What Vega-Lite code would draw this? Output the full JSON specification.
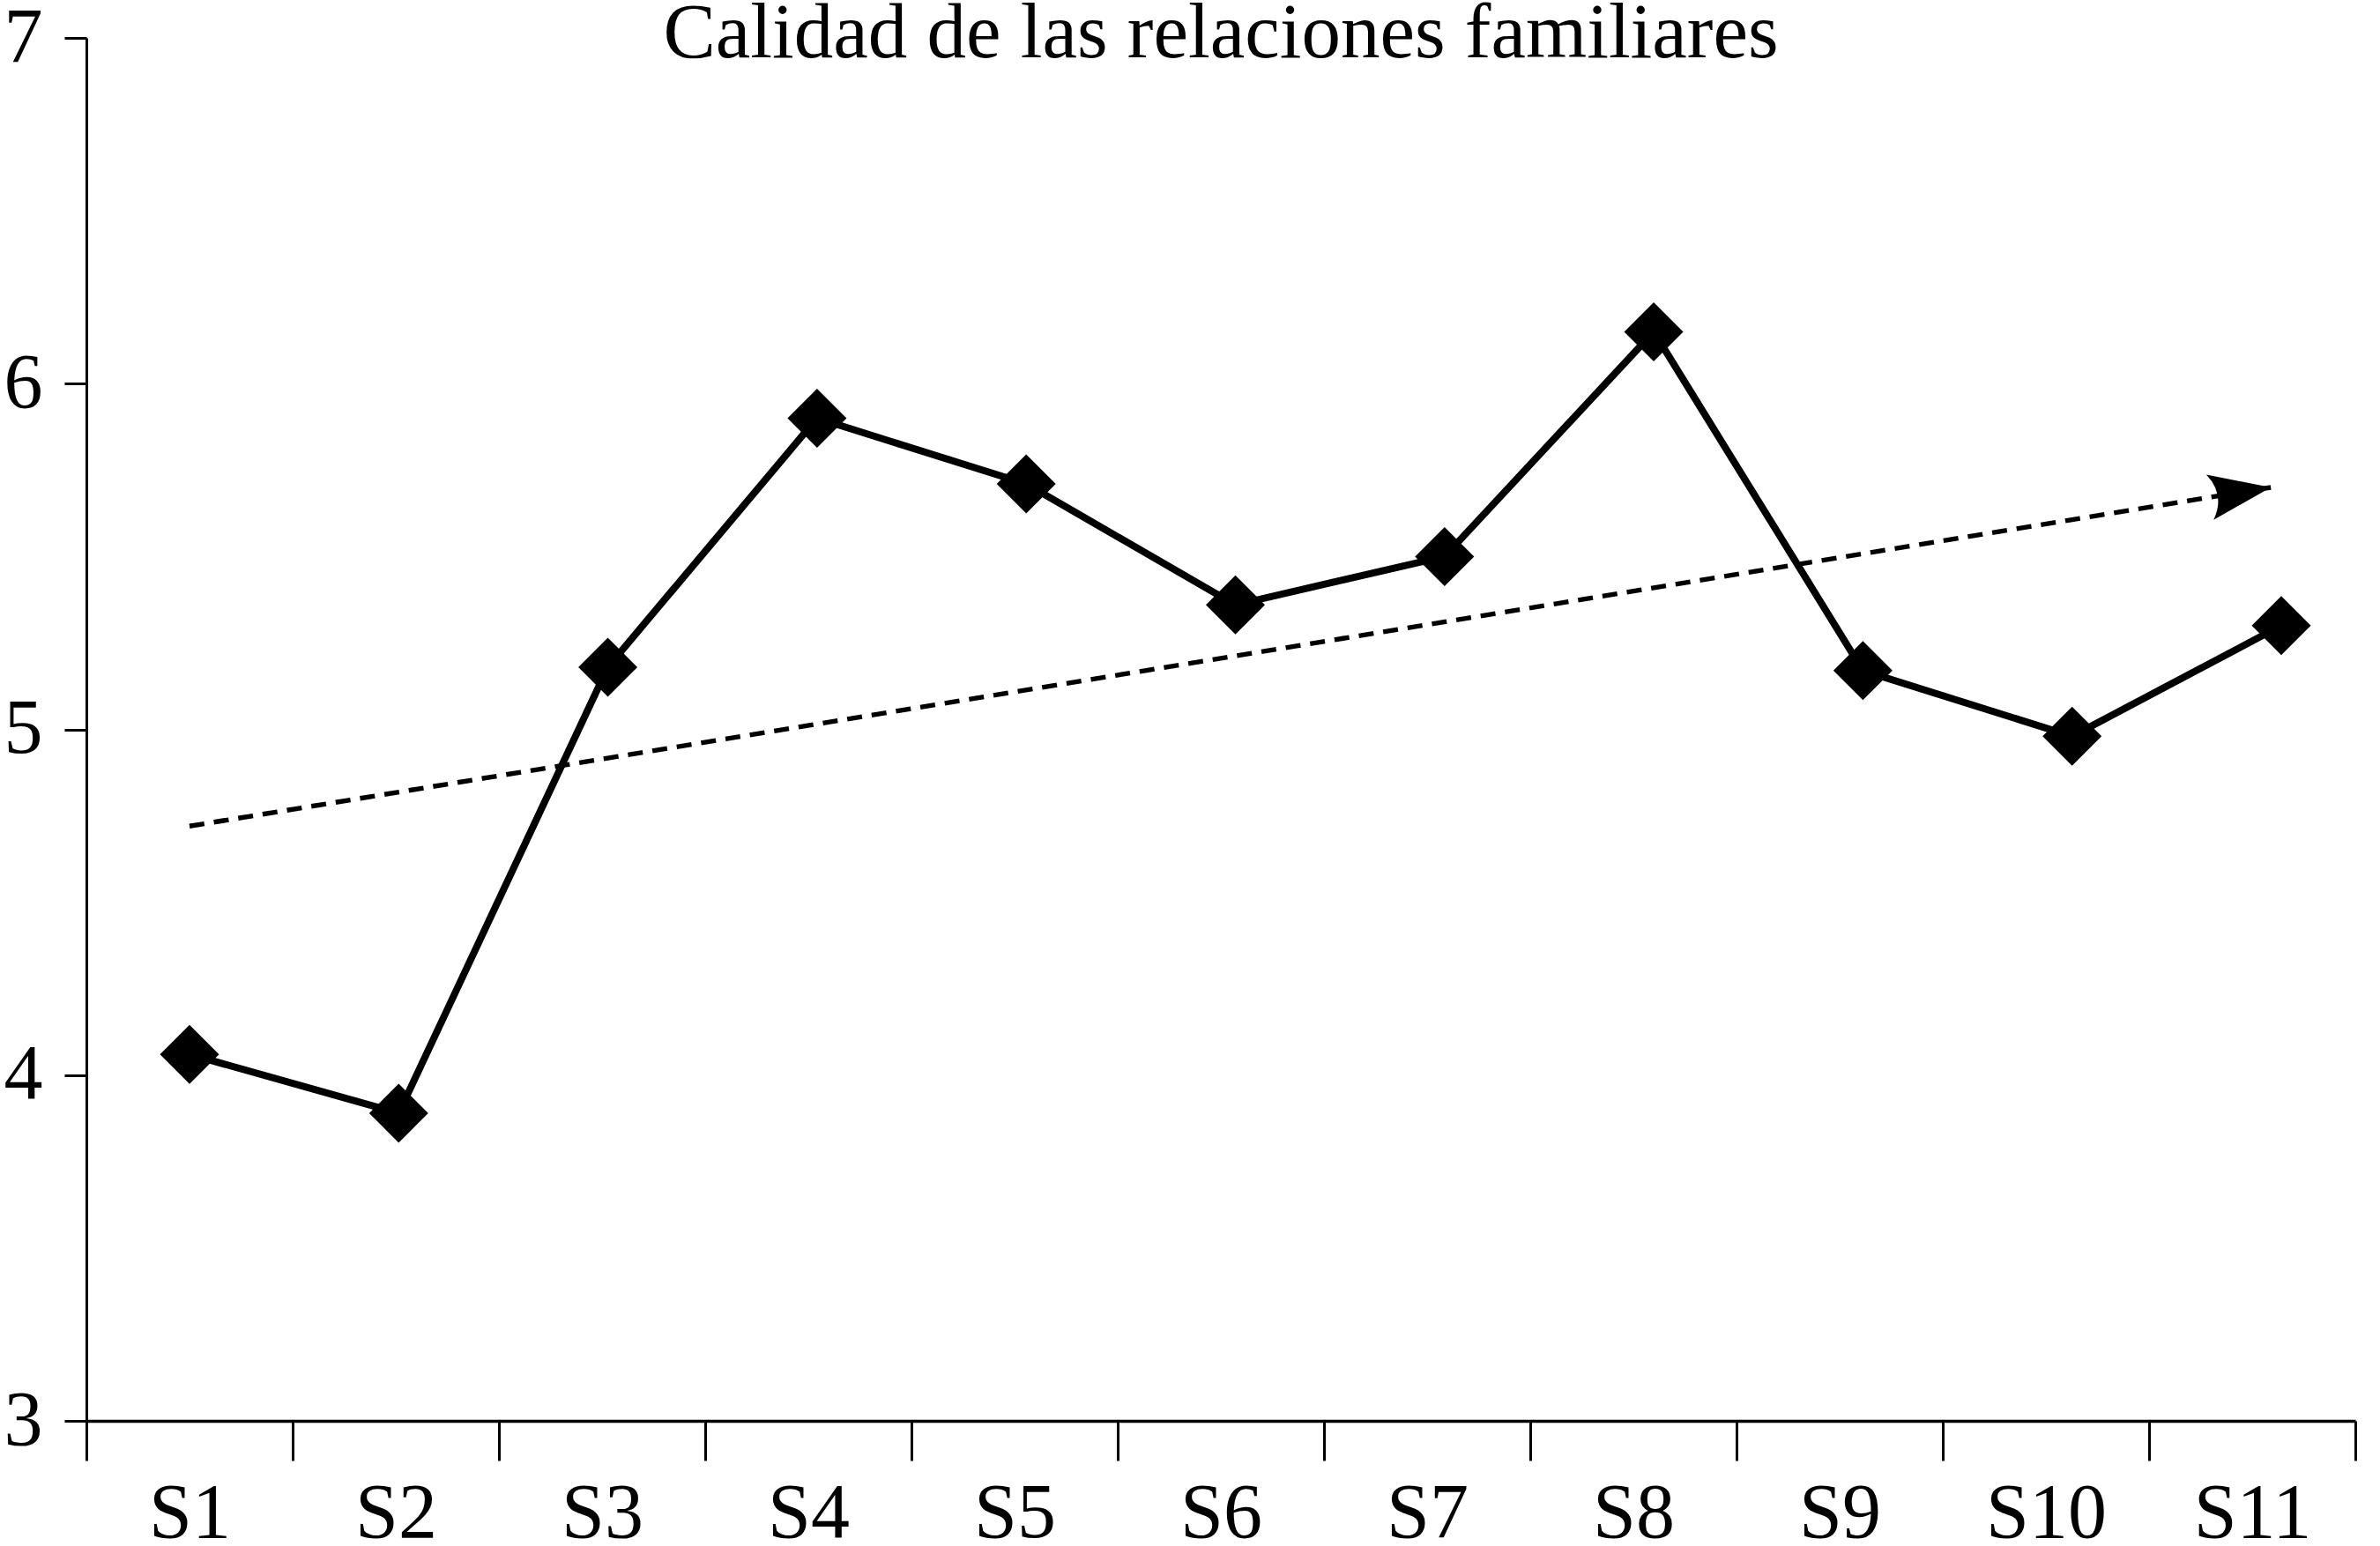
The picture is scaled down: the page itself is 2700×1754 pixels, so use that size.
{
  "$schema": "https://vega.github.io/schema/vega-lite/v6.json",
  "autosize": {"type": "none"},
  "padding": {"left": 98, "top": 43, "right": 28, "bottom": 142},
  "width": 2574,
  "height": 1569,
  "background": "white",
  "title": {
    "text": "Calidad de las relaciones familiares",
    "font": "Liberation Serif",
    "fontSize": 89,
    "fontWeight": "normal",
    "color": "black",
    "anchor": "middle",
    "baseline": "alphabetic",
    "offset": -155
  },
  "config": {
    "view": {"stroke": null},
    "axis": {
      "grid": false,
      "labelFont": "Liberation Serif",
      "labelFontSize": 88,
      "labelColor": "black",
      "domainColor": "black",
      "tickColor": "black",
      "title": null
    }
  },
  "datasets": {
    "sesiones": [
      {"sesion": "S1", "n": 1, "valor": 4.06},
      {"sesion": "S2", "n": 2, "valor": 3.89},
      {"sesion": "S3", "n": 3, "valor": 5.18},
      {"sesion": "S4", "n": 4, "valor": 5.90},
      {"sesion": "S5", "n": 5, "valor": 5.71},
      {"sesion": "S6", "n": 6, "valor": 5.36},
      {"sesion": "S7", "n": 7, "valor": 5.50},
      {"sesion": "S8", "n": 8, "valor": 6.15},
      {"sesion": "S9", "n": 9, "valor": 5.17},
      {"sesion": "S10", "n": 10, "valor": 4.98},
      {"sesion": "S11", "n": 11, "valor": 5.30}
    ],
    "tendencia": [
      {"n": 1, "valor": 4.72},
      {"n": 10.95, "valor": 5.70}
    ]
  },
  "resolve": {"scale": {"x": "independent"}},
  "layer": [
    {
      "data": {"name": "sesiones"},
      "mark": {"type": "point", "opacity": 0},
      "encoding": {
        "x": {
          "field": "sesion",
          "type": "nominal",
          "sort": null,
          "scale": {"type": "band", "paddingInner": 0, "paddingOuter": 0},
          "axis": {
            "tickBand": "extent",
            "tickSize": 45,
            "tickWidth": 3,
            "domainWidth": 3.5,
            "labelAngle": 0,
            "labelBaseline": "alphabetic",
            "labelPadding": 86
          }
        },
        "y": {
          "field": "valor",
          "type": "quantitative",
          "scale": {"domain": [3, 7], "nice": false, "zero": false},
          "axis": {
            "values": [3, 4, 5, 6, 7],
            "format": "d",
            "tickSize": 25,
            "tickWidth": 3,
            "domainWidth": 3,
            "labelPadding": 25
          }
        }
      }
    },
    {
      "data": {"name": "tendencia"},
      "mark": {"type": "line", "color": "black", "strokeWidth": 5.5, "strokeDash": [17, 11], "strokeCap": "butt"},
      "encoding": {
        "x": {"field": "n", "type": "quantitative", "scale": {"domain": [0.507, 11.354], "nice": false, "zero": false}, "axis": null},
        "y": {"field": "valor", "type": "quantitative"}
      }
    },
    {
      "data": {"name": "tendencia"},
      "transform": [{"filter": "datum.n > 10"}],
      "mark": {
        "type": "point",
        "shape": "M 0 0 L -2.69 -1 Q -2 0 -2.69 1 Z",
        "size": 2704,
        "angle": 350.76,
        "filled": true,
        "color": "black",
        "opacity": 1,
        "strokeWidth": 0
      },
      "encoding": {
        "x": {"field": "n", "type": "quantitative", "scale": {"domain": [0.507, 11.354], "nice": false, "zero": false}, "axis": null},
        "y": {"field": "valor", "type": "quantitative"}
      }
    },
    {
      "data": {"name": "sesiones"},
      "mark": {"type": "line", "color": "black", "strokeWidth": 8},
      "encoding": {
        "x": {"field": "n", "type": "quantitative", "scale": {"domain": [0.507, 11.354], "nice": false, "zero": false}, "axis": null},
        "y": {"field": "valor", "type": "quantitative"}
      }
    },
    {
      "data": {"name": "sesiones"},
      "mark": {"type": "point", "shape": "diamond", "size": 4489, "filled": true, "color": "black", "opacity": 1, "strokeWidth": 0},
      "encoding": {
        "x": {"field": "n", "type": "quantitative", "scale": {"domain": [0.507, 11.354], "nice": false, "zero": false}, "axis": null},
        "y": {"field": "valor", "type": "quantitative"}
      }
    }
  ]
}
